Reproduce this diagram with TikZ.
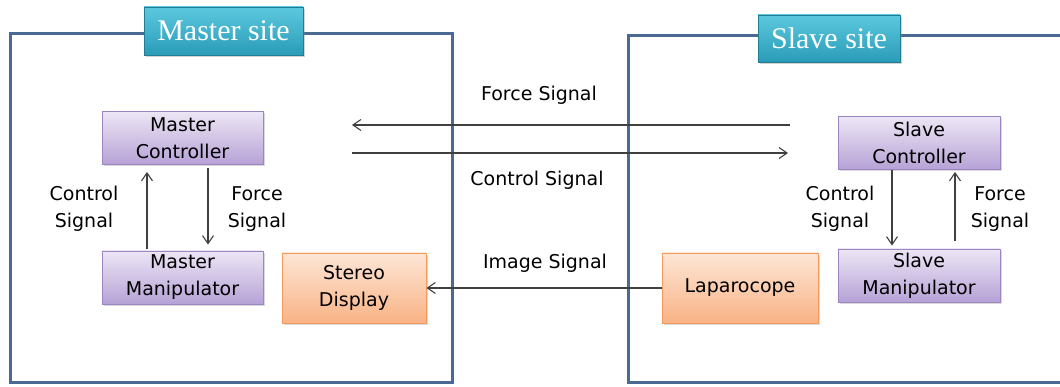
\documentclass[tikz,border=0pt]{standalone}
\usepackage{fontspec}
\setmainfont{Liberation Serif}
\newfontfamily\boxfont{DejaVu Sans}
\usetikzlibrary{shadows,arrows.meta}
\definecolor{framecol}{HTML}{4A6A94}
\definecolor{purpleedge}{HTML}{9A86C0}
\definecolor{purpletop}{HTML}{EDE6F5}
\definecolor{purplebot}{HTML}{B6A2D6}
\definecolor{orangeedge}{HTML}{F39A5C}
\definecolor{orangetop}{HTML}{FDE6D6}
\definecolor{orangebot}{HTML}{F9B386}
\definecolor{tealtop}{HTML}{5CC8DE}
\definecolor{tealbot}{HTML}{2A9CB8}
\definecolor{arrowcol}{HTML}{404040}
\tikzset{
  frame/.style={draw=framecol, line width=3pt},
  sitelabel/.style={draw=tealbot!80!black, line width=0.4pt, top color=tealtop, bottom color=tealbot,
    text=white, font=\fontsize{30}{32}\selectfont, inner sep=0pt,
    drop shadow={shadow xshift=2pt, shadow yshift=-2pt, opacity=0.35}},
  purplebox/.style={draw=purpleedge, line width=0.9pt, top color=purpletop, bottom color=purplebot,
    minimum width=161pt, minimum height=53pt, align=center, inner sep=0pt,
    font=\boxfont\fontsize{19}{27}\selectfont,
    drop shadow={shadow xshift=1.5pt, shadow yshift=-2pt, opacity=0.3}},
  orangebox/.style={draw=orangeedge, line width=0.9pt, top color=orangetop, bottom color=orangebot,
    minimum height=70pt, align=center, inner sep=0pt,
    font=\boxfont\fontsize{19}{27}\selectfont,
    drop shadow={shadow xshift=1.5pt, shadow yshift=-2pt, opacity=0.3}},
  sig/.style={draw=arrowcol, line width=1.1pt, -{Straight Barb[length=8pt,width=11pt,line width=1.1pt]}},
  lbl/.style={font=\boxfont\fontsize{19}{27}\selectfont, align=center, inner sep=0pt},
}
\begin{document}
\begin{tikzpicture}[x=1pt,y=-1pt]
\useasboundingbox (0,0) rectangle (1060,387);
% site frames
\draw[frame] (10,34) rectangle (452,382);
\draw[frame] (1064,36) -- (628,36) -- (628,382) -- (1064,382);
% site titles
\node[sitelabel, minimum width=159pt, minimum height=48pt] (mastersite) at (223.5,31) {Master site};
\node[sitelabel, minimum width=142pt, minimum height=47pt] (slavesite) at (829,38.5) {Slave site};
% master side
\node[purplebox] (mc) at (182.5,138) {Master\\Controller};
\node[purplebox] (mm) at (182.5,277.5) {Master\\Manipulator};
\node[orangebox, minimum width=144pt] (sd) at (354,288) {Stereo\\Display};
% slave side
\node[purplebox, minimum width=162pt] (sc) at (919,143) {Slave\\Controller};
\node[purplebox, minimum width=162pt] (sm) at (919,275.5) {Slave\\Manipulator};
\node[orangebox, minimum width=156pt] (lp) at (740,288) {Laparocope};
% vertical signals
\draw[sig] ([yshift=2pt]mm.north -| 147,0) -- ([yshift=-7pt]mc.south -| 147,0);
\draw[sig] ([yshift=-3pt]mc.south -| 208,0) -- ([yshift=6pt]mm.north -| 208,0);
\draw[sig] (sc.south -| 892,0) -- ([yshift=3pt]sm.north -| 892,0);
\draw[sig] ([yshift=8pt]sm.north -| 955,0) -- ([yshift=-2pt]sc.south -| 955,0);
% link between sites
\coordinate (fsA) at (790,125);
\coordinate (fsB) at (352,125);
\coordinate (csA) at (352,153);
\coordinate (csB) at (788,153);
\draw[sig] (fsA) -- (fsB);
\draw[sig] (csA) -- (csB);
\draw[sig] (lp.west) -- (sd.east);
% labels
\node[lbl] (lfs) at (539,95) {Force Signal};
\node[lbl] (lcs) at (537,180) {Control Signal};
\node[lbl] (lis) at (545,263) {Image Signal};
\node[lbl] (lmc) at (84,209) {Control\\Signal};
\node[lbl] (lmf) at (257,209) {Force\\Signal};
\node[lbl] (lsc) at (840,209) {Control\\Signal};
\node[lbl] (lsf) at (1000,209) {Force\\Signal};
\end{tikzpicture}
\end{document}
